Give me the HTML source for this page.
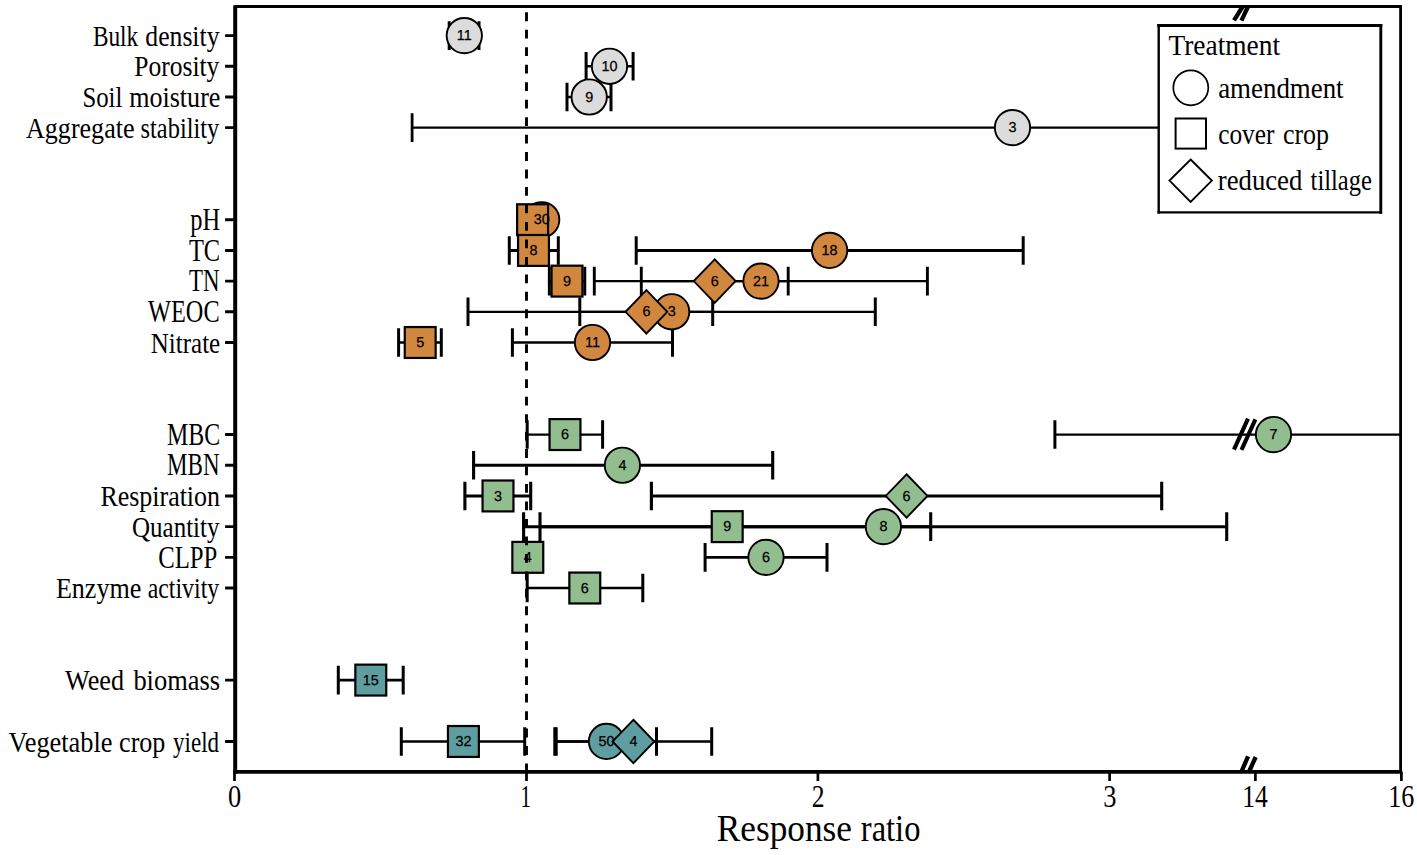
<!DOCTYPE html>
<html lang="en"><head><meta charset="utf-8"><title>Response ratio forest plot</title>
<style>html,body{margin:0;padding:0;background:#fff}svg{display:block}.s{font-family:"Liberation Serif","Times New Roman",serif;fill:#000}.n{font-family:"Liberation Sans",Arial,Helvetica,sans-serif;font-size:14.4px;fill:#000;stroke:#000;stroke-width:.25px;text-anchor:middle;text-rendering:geometricPrecision}</style></head><body>
<svg width="1417" height="855" viewBox="0 0 1417 855">
<rect width="1417" height="855" fill="#fff"/>
<defs><clipPath id="panel"><rect x="234" y="5" width="1167.5" height="768"/></clipPath></defs>
<g clip-path="url(#panel)" stroke="#000" fill="none">
<path d="M449.2 35.6H479.0" stroke-width="2.6"/><path d="M449.2 21.3V49.9M479.0 21.3V49.9" stroke-width="3.0"/>
<path d="M586.1 66.29H633.1" stroke-width="2.6"/><path d="M586.1 51.99V80.59M633.1 51.99V80.59" stroke-width="3.0"/>
<path d="M567.0 96.98H611.0" stroke-width="2.6"/><path d="M567.0 82.68V111.28M611.0 82.68V111.28" stroke-width="3.0"/>
<path d="M412.1 127.67H1300" stroke-width="2.2"/><path d="M412.1 113.37V141.97M1300 113.37V141.97" stroke-width="2.8"/>
<path d="M517.6 219.74H547.6" stroke-width="2.6"/><path d="M517.6 205.44V234.04M547.6 205.44V234.04" stroke-width="3.0"/>
<path d="M509.3 250.43H558.3" stroke-width="2.9"/><path d="M509.3 236.13V264.73M558.3 236.13V264.73" stroke-width="3.0"/>
<path d="M636.2 250.43H1023.2" stroke-width="2.9"/><path d="M636.2 236.13V264.73M1023.2 236.13V264.73" stroke-width="3.0"/>
<path d="M549.3 281.12H584.8" stroke-width="2.35"/><path d="M549.3 266.82V295.42M584.8 266.82V295.42" stroke-width="2.9"/>
<path d="M594.3 281.12H788.2" stroke-width="2.35"/><path d="M594.3 266.82V295.42M788.2 266.82V295.42" stroke-width="2.9"/>
<path d="M641.3 281.12H927.4" stroke-width="2.35"/><path d="M641.3 266.82V295.42M927.4 266.82V295.42" stroke-width="2.9"/>
<path d="M468.0 311.81H875.3" stroke-width="2.35"/><path d="M468.0 297.51V326.11M875.3 297.51V326.11" stroke-width="3.0"/>
<path d="M579.8 311.81H712.7" stroke-width="2.35"/><path d="M579.8 297.51V326.11M712.7 297.51V326.11" stroke-width="3.0"/>
<path d="M398.6 342.5H441.3" stroke-width="2.6"/><path d="M398.6 328.2V356.8M441.3 328.2V356.8" stroke-width="3.0"/>
<path d="M512.4 342.5H672.5" stroke-width="2.6"/><path d="M512.4 328.2V356.8M672.5 328.2V356.8" stroke-width="3.0"/>
<path d="M527.2 434.57H602.6" stroke-width="2.3"/><path d="M527.2 420.27V448.87M602.6 420.27V448.87" stroke-width="3.0"/>
<path d="M1054.9 434.57H1500" stroke-width="2.3"/><path d="M1054.9 420.27V448.87M1500 420.27V448.87" stroke-width="3.0"/>
<path d="M473.6 465.26H772.7" stroke-width="3.0"/><path d="M473.6 450.96V479.56M772.7 450.96V479.56" stroke-width="3.1"/>
<path d="M464.9 495.95H530.7" stroke-width="3.0"/><path d="M464.9 481.65V510.25M530.7 481.65V510.25" stroke-width="3.1"/>
<path d="M651.4 495.95H1161.7" stroke-width="3.0"/><path d="M651.4 481.65V510.25M1161.7 481.65V510.25" stroke-width="3.1"/>
<path d="M523.6 526.64H1226.7" stroke-width="3.0"/><path d="M523.6 512.34V540.94M1226.7 512.34V540.94" stroke-width="3.1"/>
<path d="M540.0 526.64H930.7" stroke-width="3.0"/><path d="M540.0 512.34V540.94M930.7 512.34V540.94" stroke-width="3.1"/>
<path d="M705.1 557.33H827.0" stroke-width="2.6"/><path d="M705.1 543.03V571.63M827.0 543.03V571.63" stroke-width="3.0"/>
<path d="M527.2 588.02H642.8" stroke-width="2.6"/><path d="M527.2 573.72V602.32M642.8 573.72V602.32" stroke-width="3.0"/>
<path d="M338.3 680.09H403.2" stroke-width="2.6"/><path d="M338.3 665.79V694.39M403.2 665.79V694.39" stroke-width="3.0"/>
<path d="M401.3 741.47H524.7" stroke-width="2.6"/><path d="M401.3 727.17V755.77M524.7 727.17V755.77" stroke-width="3.0"/>
<path d="M554.8 741.47H656.5" stroke-width="2.6"/><path d="M554.8 727.17V755.77M656.5 727.17V755.77" stroke-width="3.0"/>
<path d="M556.2 741.47H711.7" stroke-width="2.6"/><path d="M556.2 727.17V755.77M711.7 727.17V755.77" stroke-width="3.0"/>
</g>
<g stroke="#000" stroke-width="1.9">
<circle cx="464.3" cy="35.6" r="17.65" fill="#dcdcdc"/>
<circle cx="609.5" cy="66.29" r="17.65" fill="#dcdcdc"/>
<circle cx="589.2" cy="96.98" r="17.65" fill="#dcdcdc"/>
<circle cx="1012.5" cy="127.67" r="17.65" fill="#dcdcdc"/>
<circle cx="541.7" cy="219.74" r="17.65" fill="#d2873f"/>
<circle cx="829.6" cy="250.43" r="17.65" fill="#d2873f"/>
<circle cx="761.0" cy="281.12" r="17.65" fill="#d2873f"/>
<circle cx="671.7" cy="311.81" r="17.65" fill="#d2873f"/>
<circle cx="592.5" cy="342.5" r="17.65" fill="#d2873f"/>
<circle cx="1273.5" cy="434.57" r="17.65" fill="#92bd8e"/>
<circle cx="622.4" cy="465.26" r="17.65" fill="#92bd8e"/>
<circle cx="883.4" cy="526.64" r="17.65" fill="#92bd8e"/>
<circle cx="766.0" cy="557.33" r="17.65" fill="#92bd8e"/>
<circle cx="606.5" cy="741.47" r="17.65" fill="#5f9ea0"/>
<rect x="517.15" y="204.29" width="30.9" height="30.9" fill="#d2873f" stroke-width="2.2"/>
<rect x="518.05" y="234.98" width="30.9" height="30.9" fill="#d2873f" stroke-width="2.2"/>
<rect x="551.55" y="265.67" width="30.9" height="30.9" fill="#d2873f" stroke-width="2.2"/>
<rect x="404.75" y="327.05" width="30.9" height="30.9" fill="#d2873f" stroke-width="2.2"/>
<rect x="549.55" y="419.12" width="30.9" height="30.9" fill="#92bd8e" stroke-width="2.2"/>
<rect x="482.55" y="480.5" width="30.9" height="30.9" fill="#92bd8e" stroke-width="2.2"/>
<rect x="711.75" y="511.19" width="30.9" height="30.9" fill="#92bd8e" stroke-width="2.2"/>
<rect x="512.35" y="541.88" width="30.9" height="30.9" fill="#92bd8e" stroke-width="2.2"/>
<rect x="569.35" y="572.57" width="30.9" height="30.9" fill="#92bd8e" stroke-width="2.2"/>
<rect x="355.35" y="664.64" width="30.9" height="30.9" fill="#5f9ea0" stroke-width="2.2"/>
<rect x="447.95" y="726.02" width="30.9" height="30.9" fill="#5f9ea0" stroke-width="2.2"/>
<path d="M714.7 259.42L735.6 281.12L714.7 302.82L693.8 281.12Z" fill="#d2873f"/>
<path d="M646.4 290.11L667.3 311.81L646.4 333.51L625.5 311.81Z" fill="#d2873f"/>
<path d="M906.6 474.25L927.5 495.95L906.6 517.65L885.7 495.95Z" fill="#92bd8e"/>
<path d="M633.4 719.77L654.3 741.47L633.4 763.17L612.5 741.47Z" fill="#5f9ea0"/>
</g>
<g class="n">
<text x="464.3" y="40.25">11</text>
<text x="609.5" y="70.94">10</text>
<text x="589.2" y="101.63">9</text>
<text x="1012.5" y="132.32">3</text>
<text x="541.7" y="224.39">30</text>
<text x="533.5" y="255.08">8</text>
<text x="829.6" y="255.08">18</text>
<text x="567.0" y="285.77">9</text>
<text x="714.7" y="285.77">6</text>
<text x="761.0" y="285.77">21</text>
<text x="646.4" y="316.46">6</text>
<text x="671.7" y="316.46">3</text>
<text x="420.2" y="347.15">5</text>
<text x="592.5" y="347.15">11</text>
<text x="565.0" y="439.22">6</text>
<text x="1273.5" y="439.22">7</text>
<text x="622.4" y="469.91">4</text>
<text x="498.0" y="500.6">3</text>
<text x="906.6" y="500.6">6</text>
<text x="727.2" y="531.29">9</text>
<text x="883.4" y="531.29">8</text>
<text x="527.8" y="561.98">4</text>
<text x="766.0" y="561.98">6</text>
<text x="584.8" y="592.67">6</text>
<text x="370.8" y="684.74">15</text>
<text x="463.4" y="746.12">32</text>
<text x="606.5" y="746.12">50</text>
<text x="633.4" y="746.12">4</text>
</g>
<path d="M526.5 12.35V780" stroke="#000" stroke-width="2.9" stroke-dasharray="8.8 8.67" fill="none"/>
<g stroke="#000" stroke-width="4.3" fill="none">
<path d="M1242.7 6.5L1234.0 20.3M1248.05 6.5L1241.4 20.6"/>
<path d="M1241.5 771.5L1248.1 756.4M1249.1 771.5L1255.7 757.0"/>
</g>
<path d="M1248.0 418.7L1233.95 449.6M1255.4 419.4L1241.5 449.9" stroke="#000" stroke-width="4.1" fill="none"/>
<g stroke="#000" fill="none">
<path d="M235.2 6.5H1400.6V771.8" stroke-width="2.8"/>
<path d="M235.2 5.15V773.7" stroke-width="4"/>
<path d="M233.2 771.8H1402.25" stroke-width="3.8"/>
<path d="M225.1 35.6H234M225.1 66.29H234M225.1 96.98H234M225.1 127.67H234M225.1 219.74H234M225.1 250.43H234M225.1 281.12H234M225.1 311.81H234M225.1 342.5H234M225.1 434.57H234M225.1 465.26H234M225.1 495.95H234M225.1 526.64H234M225.1 557.33H234M225.1 588.02H234M225.1 680.09H234M225.1 741.47H234" stroke-width="2.9"/>
<path d="M234.5 772V780.9M526.5 772V780.9M817.9 772V780.9M1109.6 772V780.9M1255.4 772V780.9M1401.4 772V780.9" stroke-width="2.7"/>
</g>
<text class="s" y="45.8" font-size="30"><tspan x="92.9" textLength="45.28" lengthAdjust="spacingAndGlyphs">Bulk</tspan> <tspan x="145.3" textLength="74.2" lengthAdjust="spacingAndGlyphs">density</tspan></text>
<text class="s" y="76.49" font-size="30"><tspan x="134.3" textLength="85.09" lengthAdjust="spacingAndGlyphs">Porosity</tspan></text>
<text class="s" y="107.18" font-size="30"><tspan x="82.4" textLength="39.99" lengthAdjust="spacingAndGlyphs">Soil</tspan> <tspan x="129.2" textLength="91.2" lengthAdjust="spacingAndGlyphs">moisture</tspan></text>
<text class="s" y="137.87" font-size="30"><tspan x="26.0" textLength="108.52" lengthAdjust="spacingAndGlyphs">Aggregate</tspan> <tspan x="140.6" textLength="78.6" lengthAdjust="spacingAndGlyphs">stability</tspan></text>
<text class="s" y="229.94" font-size="30"><tspan x="190.3" textLength="29.9" lengthAdjust="spacingAndGlyphs" font-size="31.2">pH</tspan></text>
<text class="s" y="260.63" font-size="30"><tspan x="188.9" textLength="31.24" lengthAdjust="spacingAndGlyphs" font-size="32.4">TC</tspan></text>
<text class="s" y="291.32" font-size="30"><tspan x="188.9" textLength="30.52" lengthAdjust="spacingAndGlyphs" font-size="32.4">TN</tspan></text>
<text class="s" y="322.01" font-size="30"><tspan x="148.1" textLength="71.5" lengthAdjust="spacingAndGlyphs" font-size="32.4">WEOC</tspan></text>
<text class="s" y="352.7" font-size="30"><tspan x="150.8" textLength="69.4" lengthAdjust="spacingAndGlyphs">Nitrate</tspan></text>
<text class="s" y="444.77" font-size="30"><tspan x="167.1" textLength="53.18" lengthAdjust="spacingAndGlyphs" font-size="32.4">MBC</tspan></text>
<text class="s" y="475.46" font-size="30"><tspan x="167.1" textLength="52.5" lengthAdjust="spacingAndGlyphs" font-size="32.4">MBN</tspan></text>
<text class="s" y="506.15" font-size="30"><tspan x="100.4" textLength="119.61" lengthAdjust="spacingAndGlyphs">Respiration</tspan></text>
<text class="s" y="536.84" font-size="30"><tspan x="132.0" textLength="87.47" lengthAdjust="spacingAndGlyphs">Quantity</tspan></text>
<text class="s" y="567.53" font-size="30"><tspan x="158.2" textLength="59.1" lengthAdjust="spacingAndGlyphs" font-size="32.4">CLPP</tspan></text>
<text class="s" y="598.22" font-size="30"><tspan x="55.9" textLength="85.4" lengthAdjust="spacingAndGlyphs">Enzyme</tspan> <tspan x="147.7" textLength="71.5" lengthAdjust="spacingAndGlyphs">activity</tspan></text>
<text class="s" y="690.29" font-size="30"><tspan x="65.1" textLength="58.9" lengthAdjust="spacingAndGlyphs">Weed</tspan> <tspan x="133.4" textLength="86.71" lengthAdjust="spacingAndGlyphs">biomass</tspan></text>
<text class="s" y="751.67" font-size="30"><tspan x="8.6" textLength="103.9" lengthAdjust="spacingAndGlyphs">Vegetable</tspan> <tspan x="119.1" textLength="46.3" lengthAdjust="spacingAndGlyphs">crop</tspan> <tspan x="173.1" textLength="46.0" lengthAdjust="spacingAndGlyphs">yield</tspan></text>
<text class="s" y="806.7" font-size="30.6"><tspan x="228.0" textLength="13.2" lengthAdjust="spacingAndGlyphs">0</tspan></text>
<text class="s" y="806.7" font-size="30.6"><tspan x="520.4" textLength="10.4" lengthAdjust="spacingAndGlyphs">1</tspan></text>
<text class="s" y="806.7" font-size="30.6"><tspan x="811.7" textLength="12.8" lengthAdjust="spacingAndGlyphs">2</tspan></text>
<text class="s" y="806.7" font-size="30.6"><tspan x="1103.3" textLength="13.2" lengthAdjust="spacingAndGlyphs">3</tspan></text>
<text class="s" y="806.7" font-size="30.6"><tspan x="1242.2" textLength="25.7" lengthAdjust="spacingAndGlyphs">14</tspan></text>
<text class="s" y="806.7" font-size="30.6"><tspan x="1388.3" textLength="25.98" lengthAdjust="spacingAndGlyphs">16</tspan></text>
<text class="s" y="840.6" font-size="37.8"><tspan x="716.8" textLength="135.2" lengthAdjust="spacingAndGlyphs">Response</tspan> <tspan x="860.8" textLength="59.61" lengthAdjust="spacingAndGlyphs">ratio</tspan></text>
<rect x="1158.7" y="25.55" width="222.1" height="186.85" fill="#fff"/>
<g stroke="#000" fill="none" stroke-linecap="square">
<path d="M1158.7 25.55H1380.8" stroke-width="3"/><path d="M1380.8 25.55V212.4" stroke-width="2.9"/><path d="M1380.8 212.4H1158.7" stroke-width="2.4"/><path d="M1158.7 212.4V25.55" stroke-width="2.4"/>
</g>
<g fill="none" stroke="#000">
<circle cx="1190.8" cy="87.8" r="17.5" stroke-width="1.7"/>
<rect x="1175.6" y="118.5" width="30.4" height="30.1" stroke-width="2"/>
<path d="M1190.6 159.5L1211.8 180.6L1190.6 201.8L1169.5 180.6Z" stroke-width="1.9"/>
</g>
<text class="s" y="54.6" font-size="30"><tspan x="1168.45" textLength="111.61" lengthAdjust="spacingAndGlyphs">Treatment</tspan></text>
<text class="s" y="97.5" font-size="30"><tspan x="1218.2" textLength="125.4" lengthAdjust="spacingAndGlyphs">amendment</tspan></text>
<text class="s" y="143.7" font-size="30"><tspan x="1218.2" textLength="56.28" lengthAdjust="spacingAndGlyphs">cover</tspan> <tspan x="1282.9" textLength="46.2" lengthAdjust="spacingAndGlyphs">crop</tspan></text>
<text class="s" y="190.0" font-size="30"><tspan x="1217.8" textLength="84.47" lengthAdjust="spacingAndGlyphs">reduced</tspan> <tspan x="1310.6" textLength="61.3" lengthAdjust="spacingAndGlyphs">tillage</tspan></text>
</svg></body></html>
